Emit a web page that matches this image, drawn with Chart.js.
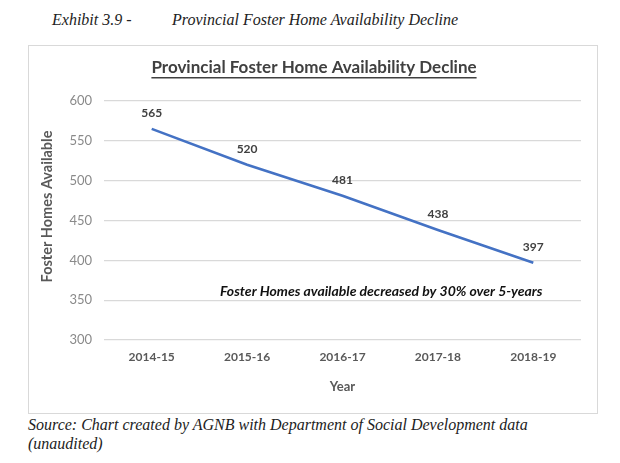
<!DOCTYPE html>
<html>
<head>
<meta charset="utf-8">
<script src="https://cdn.jsdelivr.net/npm/chart.js@4"></script>
<style>
  html, body { margin: 0; padding: 0; background: #fff; }
  body { width: 620px; height: 463px; position: relative; overflow: hidden; }
  .serif { font-family: "Liberation Serif", "DejaVu Serif", serif; font-style: italic; color: #222; position: absolute; white-space: nowrap; }
  #box { position: absolute; left: 28px; top: 45px; width: 568px; height: 367px; border: 1px solid #d9d9d9; }
  #box canvas { display: block; }
</style>
</head>
<body>
<div class="serif" style="left:52px; top:11px; font-size:16px; line-height:18px;">Exhibit 3.9 -</div>
<div class="serif" style="left:172px; top:11px; font-size:16px; line-height:18px;">Provincial Foster Home Availability Decline</div>
<div id="box"><canvas id="chart" width="568" height="367"></canvas></div>
<div class="serif" style="left:28px; top:415px; font-size:16px; line-height:19px;">Source: Chart created by AGNB with Department of Social Development data<br>(unaudited)</div>
<script>
  // ── Data ──────────────────────────────────────────────────────────────
  const years = ['2014-15', '2015-16', '2016-17', '2017-18', '2018-19'];
  const fosterHomes = [565, 520, 481, 438, 397];
  const yTicks = [300, 350, 400, 450, 500, 550, 600];

  const CHART_TITLE = 'Provincial Foster Home Availability Decline';
  const Y_TITLE = 'Foster Homes Available';
  const NOTE = 'Foster Homes available decreased by 30% over 5-years';

  const FONT = "Lato, 'Open Sans', sans-serif";
  const TEXT = '#595959';
  const GRID = '#d9d9d9';

  /** Titles, value labels and the note, drawn on top of the chart */
  const overlay = {
    id: 'overlay',
    afterDatasetsDraw(chart) {
      const { ctx, chartArea, scales: { x, y } } = chart;
      ctx.save();
      ctx.textAlign = 'center';
      ctx.textBaseline = 'middle';

      // underlined chart title
      ctx.font = `bold 17px ${FONT}`;
      ctx.fillStyle = '#404040';
      const cx = chart.width / 2 + 1;
      ctx.fillText(CHART_TITLE, cx, 22);
      const w = ctx.measureText(CHART_TITLE).width;
      ctx.fillRect(cx - w / 2, 31, w, 1.5);

      // y axis title (sits a bit above the middle, as in the original)
      ctx.save();
      ctx.translate(18, (chartArea.top + chartArea.bottom) / 2 - 14);
      ctx.rotate(-Math.PI / 2);
      ctx.font = `bold 14.5px ${FONT}`;
      ctx.fillStyle = TEXT;
      ctx.fillText(Y_TITLE, 0, 0);
      ctx.restore();

      // value labels above the points
      ctx.font = `bold 12px ${FONT}`;
      ctx.fillStyle = '#404040';
      chart.getDatasetMeta(0).data.forEach((pt, i) => {
        ctx.fillText(fosterHomes[i], pt.x, pt.y - 16);
      });

      // note
      ctx.font = `italic bold 14px ${FONT}`;
      ctx.fillStyle = '#111';
      const nx = (x.getPixelForValue(2) + x.getPixelForValue(3)) / 2 - 9;
      ctx.fillText(NOTE, nx, y.getPixelForValue(361));
      ctx.restore();
    },
  };

  new Chart(document.getElementById('chart'), {
    type: 'line',
    data: {
      labels: years,
      datasets: [{
        data: fosterHomes,
        borderColor: '#4472c4',
        borderWidth: 2.6,
        pointRadius: 0,
        tension: 0,
        fill: false,
      }],
    },
    options: {
      responsive: false,
      animation: false,
      layout: { padding: { left: 0, right: 16, top: 55, bottom: 14 } },
      plugins: { legend: { display: false }, tooltip: { enabled: false } },
      scales: {
        x: {
          offset: true,
          grid: { display: false, drawTicks: false },
          border: { display: false },
          ticks: { color: TEXT, font: { family: FONT, size: 12, weight: 'bold' }, padding: 10, maxRotation: 0 },
          title: { display: true, text: 'Year', color: TEXT, font: { family: FONT, size: 13, weight: 'bold' } },
          afterFit: (s) => { s.height = 59; },
        },
        y: {
          min: 300,
          max: 600,
          afterBuildTicks: (s) => { s.ticks = yTicks.map(v => ({ value: v })); },
          grid: { color: GRID, lineWidth: 1.3, drawTicks: false },
          border: { display: false },
          ticks: { color: '#8a8a8a', font: { family: FONT, size: 13 }, padding: 12 },
          afterFit: (s) => { s.width = 75; },
        },
      },
    },
    plugins: [overlay],
  });
</script>
</body>
</html>
